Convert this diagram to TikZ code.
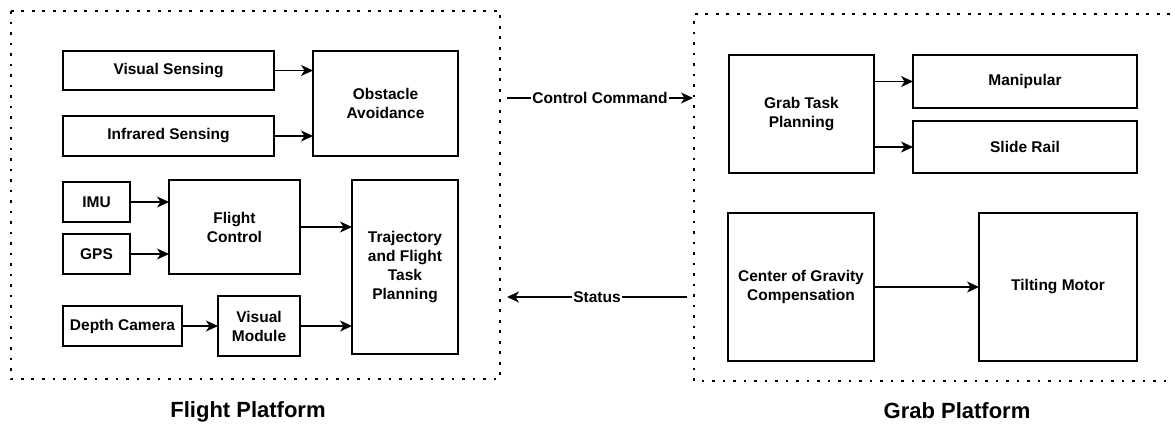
\documentclass[tikz,border=0pt]{standalone}
\usepackage{fontspec}
\setmainfont{Liberation Sans}
\usetikzlibrary{arrows.meta}

\tikzset{
  blk/.style={draw, line width=1.3pt, rectangle, align=center, inner sep=0pt, outer sep=0pt,
    font=\fontsize{15.5}{19}\selectfont\bfseries},
  arr/.style={line width=1.3pt, -{Stealth[length=12pt,width=11pt,inset=3.5pt]}},
  frame/.style={line width=2.6pt, dash pattern=on 2.6pt off 7.9pt},
  ttl/.style={font=\fontsize{22}{26}\selectfont\bfseries}
}

\begin{document}
\begin{tikzpicture}[x=1pt,y=-1pt]
    \useasboundingbox (0,0) rectangle (1175,426);
    % dotted platforms
    \draw[frame] (11,11) rectangle (500,379);
    \draw[frame] (1170,14) -- (694,14) -- (694,381) -- (1170,381);
    % flight platform
    \node[blk, minimum width=211pt, minimum height=39pt] (vs) at (168.5,70.5) {Visual Sensing};
    \node[blk, minimum width=211pt, minimum height=40pt] (irs) at (168.5,136) {Infrared Sensing};
    \node[blk, minimum width=145pt, minimum height=105pt] (oa) at (385.5,103.5) {Obstacle\\Avoidance};
    \node[blk, minimum width=67pt, minimum height=40pt] (imu) at (96.5,202) {IMU};
    \node[blk, minimum width=67pt, minimum height=40pt] (gps) at (96.5,254) {GPS};
    \node[blk, minimum width=131pt, minimum height=94pt] (fc) at (234.5,227) {Flight\\Control};
    \node[blk, minimum width=106pt, minimum height=174pt] (traj) at (405,267) {Trajectory\\and Flight\\Task\\Planning};
    \node[blk, minimum width=119pt, minimum height=40pt] (dc) at (122.5,326) {Depth Camera};
    \node[blk, minimum width=82pt, minimum height=60pt] (vm) at (259,326) {Visual\\Module};
    \draw[arr] (vs) -- (vs -| oa.west);
    \draw[arr] (irs) -- (irs -| oa.west);
    \draw[arr] (imu) -- (imu -| fc.west);
    \draw[arr] (gps) -- (gps -| fc.west);
    \draw[arr] (fc) -- (fc -| traj.west);
    \draw[arr] (dc) -- (vm);
    \draw[arr] (vm) -- (vm -| traj.west);
    % grab platform
    \node[blk, minimum width=145pt, minimum height=118pt] (gtp) at (801.5,114) {Grab Task\\Planning};
    \node[blk, minimum width=224pt, minimum height=53pt] (man) at (1025,81.5) {Manipular};
    \node[blk, minimum width=224pt, minimum height=52pt] (sr) at (1025,147) {Slide Rail};
    \node[blk, minimum width=146pt, minimum height=148pt] (cog) at (801,287) {Center of Gravity\\Compensation};
    \node[blk, minimum width=158pt, minimum height=148pt] (tm) at (1058,287) {Tilting Motor};
    \draw[arr] (man -| gtp.east) -- (man.west);
    \draw[arr] (sr -| gtp.east) -- (sr.west);
    \draw[arr] (cog) -- (tm);
    % between platforms
    \coordinate (cc1) at (507,98);
    \coordinate (cc2) at (693,98);
    \coordinate (st1) at (687,297);
    \coordinate (st2) at (507,297);
    \draw[arr] (cc1) -- node[fill=white, inner sep=1pt, font=\fontsize{15.5}{19}\selectfont\bfseries] {Control Command} (cc2);
    \draw[arr] (st1) -- node[fill=white, inner sep=1pt, font=\fontsize{15.5}{19}\selectfont\bfseries] {Status} (st2);
    % titles
    \node[ttl] (fp) at (248,412) {Flight Platform};
    \node[ttl] (gp) at (957,411) {Grab Platform};
\end{tikzpicture}
\end{document}
